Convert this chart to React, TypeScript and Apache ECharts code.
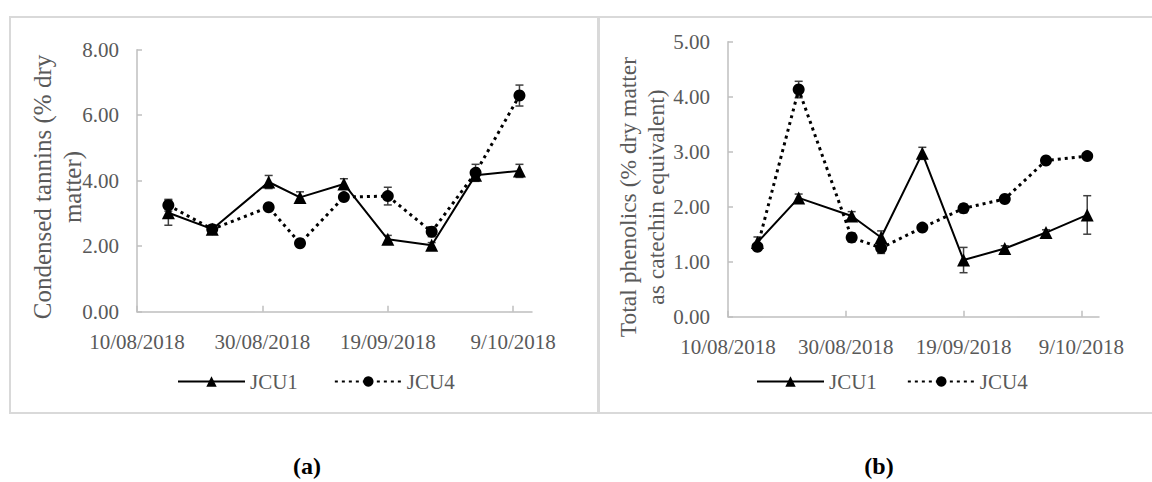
import React, { useEffect, useRef } from 'react';
import * as echarts from 'echarts';

// ---- data ----
const axisStartDate = '2018-08-10';
const axisEndDate = '2018-10-12';
const tickDates = ['2018-08-10', '2018-08-30', '2018-09-19', '2018-10-09'];
const sampleDates = ['2018-08-15', '2018-08-22', '2018-08-31', '2018-09-05', '2018-09-12', '2018-09-19', '2018-09-26', '2018-10-03', '2018-10-10'];

const tanninJCU1 = [3.02, 2.52, 3.96, 3.49, 3.90, 2.21, 2.03, 4.17, 4.30];
const tanninJCU1Err = [0.38, 0.12, 0.20, 0.17, 0.16, 0.12, 0.08, 0.10, 0.20];
const tanninJCU4 = [3.25, 2.52, 3.19, 2.09, 3.50, 3.53, 2.44, 4.24, 6.60];
const tanninJCU4Err = [0.18, 0.10, 0.08, 0.08, 0.10, 0.27, 0.15, 0.26, 0.32];

const phenolJCU1 = [1.35, 2.16, 1.83, 1.44, 2.97, 1.03, 1.24, 1.53, 1.85];
const phenolJCU1Err = [0.10, 0.07, 0.08, 0.12, 0.11, 0.23, 0.05, 0.05, 0.35];
const phenolJCU4 = [1.27, 4.13, 1.44, 1.25, 1.62, 1.97, 2.14, 2.84, 2.92];
const phenolJCU4Err = [0.05, 0.15, 0.08, 0.10, 0.05, 0.08, 0.05, 0.05, 0.05];

const seriesNames = ['JCU1', 'JCU4'];
const titleA = 'Condensed tannins (% dry\nmatter)';
const titleB = 'Total phenolics (% dry matter\nas catechin equivalent)';
const captions = ['(a)', '(b)'];

// ---- helpers ----
const DAY = 86400000;
const t0 = Date.parse(axisStartDate);
const dayOf = (s: string) => Math.round((Date.parse(s) - t0) / DAY);
const fmtDay = (v: number) => {
  const d = new Date(t0 + v * DAY);
  return `${d.getUTCDate()}/${String(d.getUTCMonth() + 1).padStart(2, '0')}/${d.getUTCFullYear()}`;
};
const xs = sampleDates.map(dayOf);
const tickDays = tickDates.map(dayOf);
const xMax = dayOf(axisEndDate);

const FONT = 'Liberation Serif';
const GREY = '#595959';
const AXIS = '#bfbfbf';

const pairs = (ys: number[]) => xs.map((x, i) => [x, ys[i]]);
const triples = (ys: number[], es: number[]) => xs.map((x, i) => [x, ys[i], es[i]]);

const errRender = (params: any, api: any) => {
  const x = api.value(0), y = api.value(1), e = api.value(2);
  const hi = api.coord([x, y + e]);
  const lo = api.coord([x, y - e]);
  const w = 4;
  const style = { stroke: '#404040', lineWidth: 1.5 };
  return {
    type: 'group',
    children: [
      { type: 'line', shape: { x1: hi[0], y1: hi[1], x2: lo[0], y2: lo[1] }, style },
      { type: 'line', shape: { x1: hi[0] - w, y1: hi[1], x2: hi[0] + w, y2: hi[1] }, style },
      { type: 'line', shape: { x1: lo[0] - w, y1: lo[1], x2: lo[0] + w, y2: lo[1] }, style },
    ],
  };
};

const makeX = (gridIndex: number) => ({
  type: 'value',
  gridIndex,
  min: 0,
  max: xMax,
  interval: 20,
  axisLine: { show: true, lineStyle: { color: AXIS, width: 1.5 } },
  axisTick: { show: true, inside: true, length: 6, customValues: tickDays, lineStyle: { color: AXIS, width: 1.5 } },
  axisLabel: { customValues: tickDays, formatter: (v: number) => fmtDay(v), color: GREY, fontFamily: FONT, fontSize: 21, margin: 20 },
  splitLine: { show: false },
});

const makeY = (gridIndex: number, max: number, interval: number) => ({
  type: 'value',
  gridIndex,
  min: 0,
  max,
  interval,
  axisLine: { show: true, lineStyle: { color: AXIS, width: 1.5 } },
  axisTick: { show: true, inside: true, length: 5, lineStyle: { color: AXIS, width: 1.5 } },
  axisLabel: { formatter: (v: number) => v.toFixed(2), color: GREY, fontFamily: FONT, fontSize: 21, margin: 18 },
  splitLine: { show: false },
});

const lineSeries = (name: string, idx: number, ys: number[], dotted: boolean) => ({
  name,
  type: 'line',
  xAxisIndex: idx,
  yAxisIndex: idx,
  data: pairs(ys),
  symbol: dotted ? 'circle' : 'triangle',
  symbolSize: dotted ? 12 : 13,
  itemStyle: { color: '#000' },
  lineStyle: { color: '#000', width: dotted ? 3 : 2, type: dotted ? [3, 4] : 'solid' },
  z: 3,
});

const errSeries = (name: string, idx: number, ys: number[], es: number[]) => ({
  name,
  type: 'custom',
  xAxisIndex: idx,
  yAxisIndex: idx,
  data: triples(ys, es),
  encode: { x: 0, y: 1 },
  renderItem: errRender,
  z: 2,
});

const legendCfg = (left: number, gap: number) => ({
  data: seriesNames,
  left,
  top: 366,
  itemWidth: 67,
  itemHeight: 13,
  itemGap: gap,
  textStyle: { color: GREY, fontFamily: FONT, fontSize: 21 },
});

const yTitle = (text: string, x: number, y: number, size: number, lh: number) => ({
  type: 'text',
  x,
  y,
  rotation: Math.PI / 2,
  silent: true,
  style: { text, fontFamily: FONT, fontSize: size, lineHeight: lh, fill: GREY, textAlign: 'center', textVerticalAlign: 'middle' },
});

const caption = (text: string, x: number, y: number) => ({
  type: 'text',
  x,
  y,
  silent: true,
  style: { text, fontFamily: FONT, fontWeight: 'bold', fontSize: 24, fill: '#000', textAlign: 'center', textVerticalAlign: 'middle' },
});

export default function App() {
  const ref = useRef<HTMLDivElement>(null);
  useEffect(() => {
    if (!ref.current) return;
    const chart = echarts.init(ref.current, undefined, { renderer: 'svg' });
    chart.setOption({
      animation: false,
      backgroundColor: '#fff',
      grid: [
        { left: 137, top: 49.7, width: 395, height: 262 },
        { left: 728, top: 41.7, width: 371, height: 275 },
      ],
      xAxis: [makeX(0), makeX(1)],
      yAxis: [makeY(0, 8, 2), makeY(1, 5, 1)],
      legend: [legendCfg(172, 36), legendCfg(751, 30)],
      series: [
        errSeries('errA1', 0, tanninJCU1, tanninJCU1Err),
        errSeries('errA4', 0, tanninJCU4, tanninJCU4Err),
        lineSeries(seriesNames[0], 0, tanninJCU1, false),
        lineSeries(seriesNames[1], 0, tanninJCU4, true),
        errSeries('errB1', 1, phenolJCU1, phenolJCU1Err),
        errSeries('errB4', 1, phenolJCU4, phenolJCU4Err),
        lineSeries(seriesNames[0], 1, phenolJCU1, false),
        lineSeries(seriesNames[1], 1, phenolJCU4, true),
      ],
      graphic: [
        { type: 'rect', shape: { x: 10, y: 17, width: 588, height: 396 }, style: { fill: 'none', stroke: '#d9d9d9', lineWidth: 2 }, silent: true },
        { type: 'rect', shape: { x: 599, y: 17, width: 570, height: 396 }, style: { fill: 'none', stroke: '#d9d9d9', lineWidth: 2 }, silent: true },
        yTitle(titleA, 57, 187, 25, 30),
        yTitle(titleB, 642, 197, 23.5, 28),
        caption(captions[0], 307, 466),
        caption(captions[1], 879, 466),
      ],
    });
    return () => chart.dispose();
  }, []);
  return <div ref={ref} style={{ position: 'absolute', left: 0, top: 0, width: 1152, height: 482 }} />;
}
